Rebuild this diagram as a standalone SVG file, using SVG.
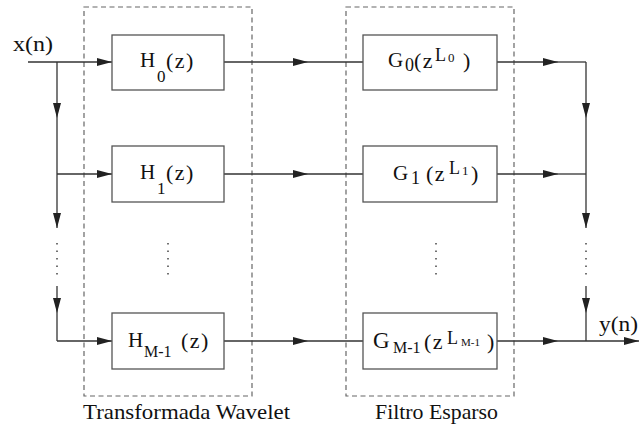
<svg xmlns="http://www.w3.org/2000/svg" width="639" height="426" viewBox="0 0 639 426">
<defs>
<style>
.box{fill:#fff;stroke:#555;stroke-width:1.3}
.grp{fill:none;stroke:#666;stroke-width:1.2;stroke-dasharray:5 3.5}
.ln{fill:none;stroke:#333;stroke-width:1.3}
.ar{fill:none;stroke:#333;stroke-width:1.3;marker-end:url(#ah)}
.dot{fill:none;stroke:#444;stroke-width:1.5;stroke-dasharray:1.5 6}
.t{font-family:"Liberation Serif","DejaVu Serif",serif;font-size:21px;fill:#111}
</style>
<marker id="ah" markerUnits="userSpaceOnUse" viewBox="0 0 15 8" markerWidth="15" markerHeight="8" refX="15" refY="4" orient="auto">
<path d="M0,0 L15,4 L0,8 z" fill="#222"/>
</marker>
</defs>

<g id="groups">
<rect class="grp" x="84" y="7" width="168" height="389"/>
<rect class="grp" x="346" y="7" width="168" height="389"/>
<text class="t" x="83" y="419" textLength="207" lengthAdjust="spacingAndGlyphs">Transformada Wavelet</text>
<text class="t" x="375" y="419" textLength="123" lengthAdjust="spacingAndGlyphs">Filtro Esparso</text>
</g>

<g id="connectors">
<path class="ar" d="M28,62 H112"/>
<path class="ar" d="M57,62 V118"/>
<path class="ar" d="M57,118 V228"/>
<path class="dot" d="M57,243 V276"/>
<path class="ar" d="M57,286 V313"/>
<path class="ln" d="M57,313 V341"/>
<path class="ar" d="M57,174 H112"/>
<path class="ar" d="M57,341 H112"/>

<path class="ar" d="M224,62 H308"/><path class="ln" d="M308,62 H363"/>
<path class="ar" d="M224,174 H308"/><path class="ln" d="M308,174 H363"/>
<path class="ar" d="M224,341 H308"/><path class="ln" d="M308,341 H363"/>

<path class="ar" d="M497,62 H558"/><path class="ln" d="M558,62 H586"/>
<path class="ar" d="M497,174 H558"/><path class="ln" d="M558,174 H586"/>
<path class="ar" d="M497,341 H558"/><path class="ar" d="M558,341 H639"/>
<path class="ar" d="M586,62 V118"/>
<path class="ar" d="M586,118 V228"/>
<path class="dot" d="M586,243 V276"/>
<path class="ar" d="M586,286 V313"/>
<path class="ln" d="M586,313 V341"/>

<path class="dot" d="M168,243 V276"/>
<path class="dot" d="M436,243 V276"/>
</g>

<g id="in">
<text class="t" x="13" y="51" textLength="40" lengthAdjust="spacingAndGlyphs">x(n)</text>
</g>
<g id="out">
<text class="t" x="599" y="331" textLength="39" lengthAdjust="spacingAndGlyphs">y(n)</text>
</g>

<g id="H0">
<rect class="box" x="112" y="35" width="112" height="55"/>
<text class="t" y="67"><tspan x="140">H</tspan><tspan x="157" y="82" font-size="17">0</tspan><tspan x="166" y="68" font-size="22" letter-spacing="1.5">(z)</tspan></text>
</g>
<g id="H1">
<rect class="box" x="112" y="146" width="112" height="56"/>
<text class="t" y="179"><tspan x="140">H</tspan><tspan x="157" y="194" font-size="17">1</tspan><tspan x="166" y="180" font-size="22" letter-spacing="1.5">(z)</tspan></text>
</g>
<g id="HM1">
<rect class="box" x="112" y="313" width="112" height="56"/>
<text class="t" y="347"><tspan x="128">H</tspan><tspan x="144" y="357" font-size="16">M-1</tspan><tspan x="181" y="348" font-size="22" letter-spacing="1.5">(z)</tspan></text>
</g>

<g id="G0">
<rect class="box" x="363" y="35" width="134" height="55"/>
<text class="t" y="67"><tspan x="388">G</tspan><tspan x="405" y="71" font-size="18">0</tspan><tspan x="414" y="68" font-size="22" letter-spacing="1.5">(z</tspan><tspan x="435" y="61" font-size="18">L</tspan><tspan x="448" y="62" font-size="13">0</tspan><tspan x="463" y="68" font-size="22">)</tspan></text>
</g>
<g id="G1">
<rect class="box" x="363" y="146" width="134" height="56"/>
<text class="t" y="180"><tspan x="393">G</tspan><tspan x="411" y="184" font-size="18">1</tspan><tspan x="426" y="181" font-size="22" letter-spacing="1.5">(z</tspan><tspan x="449" y="174" font-size="18">L</tspan><tspan x="462" y="175" font-size="13">1</tspan><tspan x="471" y="181" font-size="22">)</tspan></text>
</g>
<g id="GM1">
<rect class="box" x="363" y="313" width="134" height="56"/>
<text class="t" y="348"><tspan x="373" font-size="23">G</tspan><tspan x="393" y="353" font-size="16">M-1</tspan><tspan x="424" y="349" font-size="22" letter-spacing="1.5">(z</tspan><tspan x="447" y="344" font-size="18">L</tspan><tspan x="461" y="346" font-size="11">M-1</tspan><tspan x="487" y="349" font-size="22">)</tspan></text>
</g>
</svg>
